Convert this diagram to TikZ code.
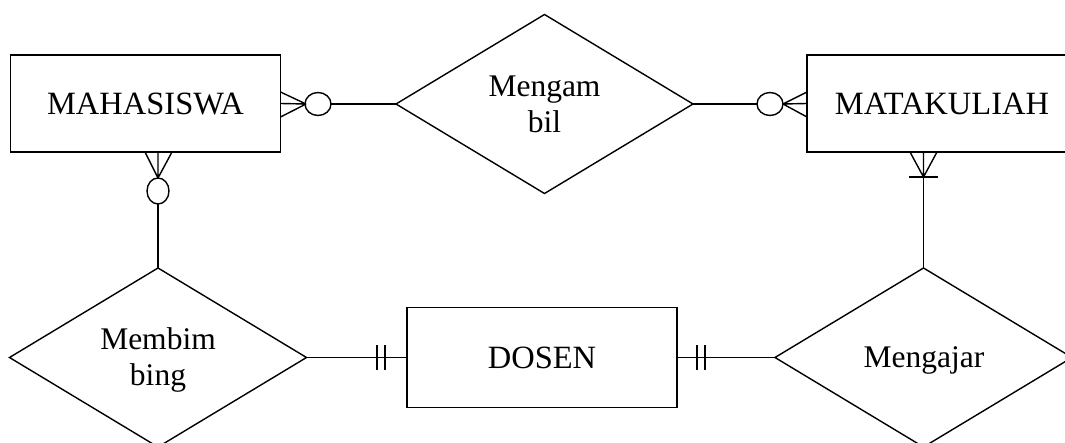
\documentclass[tikz,border=0pt]{standalone}
\usepackage{fontspec}
\setmainfont{Liberation Serif}
\usetikzlibrary{shapes.geometric}
\begin{document}
\begin{tikzpicture}[x=1pt,y=-1pt,line width=1.4pt,
  every node/.style={inner sep=0pt,outer sep=0pt},
  ent/.style={draw,rectangle,minimum width=270pt,minimum height=97pt,font=\fontsize{32.5}{38}\selectfont},
  rel/.style={draw,diamond,aspect=1.66,minimum width=297pt,minimum height=179pt},
  reltxt/.style={align=center,font=\fontsize{31.5}{36}\selectfont},
  opt/.style={draw,ellipse,minimum width=26pt,minimum height=23pt},
  optv/.style={draw,ellipse,minimum width=22pt,minimum height=26pt}]
\useasboundingbox (0,0) rectangle (1065,443);
% entities
\node[ent] (mhs) at (145.5,103.5) {MAHASISWA};
\node[ent] (mk) at (942,103.5) {MATAKULIAH};
\node[ent,minimum height=100pt] (dsn) at (542,357.5) {DOSEN};
% relationships
\node[rel] (ambil) at (544.5,104) {};
\node[reltxt] (ambiltxt) at (544.5,104.5) {Mengam\\bil};
\node[rel] (bimb) at (158,357.5) {};
\node[reltxt] (bimbtxt) at (158,359.5) {Membim\\bing};
\node[rel] (ajar) at (923.5,357.5) {};
\node[reltxt] (ajartxt) at (924,360.5) {Mengajar};
% MAHASISWA -- Mengambil (zero or many)
\coordinate (c1) at (306,104);
\node[opt] (o1) at (318,104) {};
\draw (c1) -- (mhs.east |- 0,92) (c1) -- (mhs.east) (c1) -- (mhs.east |- 0,117);
\draw (o1) -- (ambil.west);
% Mengambil -- MATAKULIAH (zero or many)
\coordinate (c2) at (783,104);
\node[opt] (o2) at (770,104) {};
\draw (c2) -- (mk.west |- 0,92) (c2) -- (mk.west) (c2) -- (mk.west |- 0,117);
\draw (ambil.east) -- (o2);
% MAHASISWA -- Membimbing (zero or many)
\coordinate (c3) at (158,178);
\node[optv] (o3) at (158,191) {};
\draw (c3) -- (145,152) (c3) -- (158,152) (c3) -- (172,152);
\draw (o3) -- (bimb.north);
% MATAKULIAH -- Mengajar (one or many)
\coordinate (c4) at (923.5,177);
\draw (c4) -- (910,152) (c4) -- (923.5,152) (c4) -- (937,152);
\draw (909,177) -- (938,177);
\draw (c4) -- (ajar.north);
% Membimbing -- DOSEN (exactly one)
\draw (bimb.east) -- (dsn.west);
\draw ([xshift=-30pt]dsn.west) ++(0,-12) -- ++(0,24);
\draw ([xshift=-22pt]dsn.west) ++(0,-12) -- ++(0,24);
% DOSEN -- Mengajar (exactly one)
\draw (dsn.east) -- (ajar.west);
\draw ([xshift=20pt]dsn.east) ++(0,-12) -- ++(0,24);
\draw ([xshift=28pt]dsn.east) ++(0,-12) -- ++(0,24);
\end{tikzpicture}
\end{document}
